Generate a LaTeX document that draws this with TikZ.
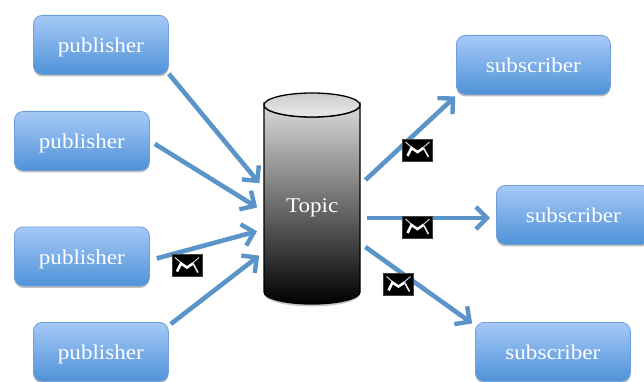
\documentclass[tikz,border=0pt]{standalone}
\usepackage{fontspec}
\setmainfont[FakeStretch=1.1]{Liberation Serif}
\usetikzlibrary{arrows.meta,shadows,calc}
\definecolor{boxtop}{HTML}{A6C9F7}
\definecolor{boxbot}{HTML}{4F92D8}
\definecolor{boxedge}{HTML}{6E9FD6}
\definecolor{arrowc}{HTML}{5B94C8}
\newcommand{\lowtext}[1]{\raisebox{-8pt}[0pt][0pt]{#1}}
\tikzset{
  agent/.style={rectangle,rounded corners=9pt,draw=boxedge,line width=0.8pt,top color=boxtop,bottom color=boxbot,
    text=white,font=\fontsize{21}{24}\selectfont,inner sep=0pt,anchor=north west,
    general shadow={fill=black,opacity=0.25,shadow yshift=-2pt,shadow xshift=0pt}},
  link/.style={draw=arrowc,line width=4.6pt,-{Straight Barb[length=11pt,width=22pt,line width=4.4pt]},shorten >=1pt},
  envelope/.style={rectangle,fill=black,draw=black!75,line width=0.5pt,minimum width=30pt,minimum height=22pt,inner sep=0pt,
    path picture={
      \draw[white!70!gray,line width=1pt] ($(path picture bounding box.north west)+(3,3)$) -- ++(8,7);
      \draw[white!60!arrowc,line width=1pt] ($(path picture bounding box.north east)+(-3,3)$) -- ++(-8,7);
      \draw[white,line width=2.6pt,line join=miter] ($(path picture bounding box.south west)+(5,-5)$)
        -- ($(path picture bounding box.center)+(-6,-2)$) -- ($(path picture bounding box.center)+(0,2)$)
        -- ($(path picture bounding box.center)+(6,-2)$);
      \draw[white!80!gray,line width=1.6pt] ($(path picture bounding box.center)+(6,-2)$) -- ($(path picture bounding box.south east)+(-4,-4)$);
    }},
}
\begin{document}
\begin{tikzpicture}[x=1pt,y=-1pt]
\useasboundingbox (0,0) rectangle (644,382);
\clip (0,0) rectangle (644,382);
% boxes
\node[agent,minimum width=135pt,minimum height=59pt] (p1) at (33,15) {\lowtext{publisher}};
\node[agent,minimum width=135pt,minimum height=59pt] (p2) at (14,111) {\lowtext{publisher}};
\node[agent,minimum width=135pt,minimum height=59pt] (p3) at (14,226.5) {\lowtext{publisher}};
\node[agent,minimum width=135pt,minimum height=59pt] (p4) at (33,322) {\lowtext{publisher}};
\node[agent,minimum width=154pt,minimum height=59pt] (s1) at (456,35) {\lowtext{subscriber}};
\node[agent,minimum width=154pt,minimum height=59pt] (s2) at (496,185) {\lowtext{subscriber}};
\node[agent,minimum width=155pt,minimum height=59pt] (s3) at (475,322) {\lowtext{subscriber}};
% cylinder
\fill[black,opacity=0.22] (264,294) arc[start angle=180,end angle=0,x radius=48,y radius=12.5] -- cycle;
\path[draw=black,line width=1.3pt,top color=black!15,bottom color=black]
  (264,105) -- (264,292) arc[start angle=180,end angle=0,x radius=48,y radius=12] -- (360,105)
  arc[start angle=0,end angle=180,x radius=48,y radius=12] -- cycle;
\path[draw=black,line width=1.3pt,top color=black!20,bottom color=black!8]
  (312,105) ellipse[x radius=48,y radius=12];
\node[text=white,font=\fontsize{21}{24}\selectfont,inner sep=0pt,minimum width=96pt,minimum height=199pt,anchor=north west] (topic) at (264,105) {\lowtext{Topic}};
% connector ends on the topic
\coordinate (t1) at ($(topic.north west)+(-4,79)$);
\coordinate (t2) at ($(topic.north west)+(-6,103)$);
\coordinate (t3) at ($(topic.north west)+(-6,126)$);
\coordinate (t4) at ($(topic.north west)+(-4,150)$);
\coordinate (o1) at ($(topic.north east)+(5,75)$);
\coordinate (o2) at ($(topic.north east)+(7,113)$);
\coordinate (o3) at ($(topic.north east)+(5,142)$);
% connectors
\draw[link] ($(p1.south east)+(0,-1)$) -- (t1);
\draw[link] ($(p2.east)+(5,3)$) -- (t2);
\draw[link] ($(p3.east)+(7,2)$) -- (t3);
\draw[link] ($(p4.north east)+(2,2)$) -- (t4);
\draw[link] (o1) -- ($(s1.south west)+(0,1)$);
\draw[link] (o2) -- ($(o2 -| s2.west)+(-5,0)$);
\draw[link] (o3) -- ($(s3.north west)+(-2,2)$);
% envelopes
\node[envelope] (e1) at (187,265.5) {};
\node[envelope] (e2) at (417.5,150) {};
\node[envelope] (e3) at (417.5,227) {};
\node[envelope] (e4) at (398.5,284.5) {};
\end{tikzpicture}
\end{document}
